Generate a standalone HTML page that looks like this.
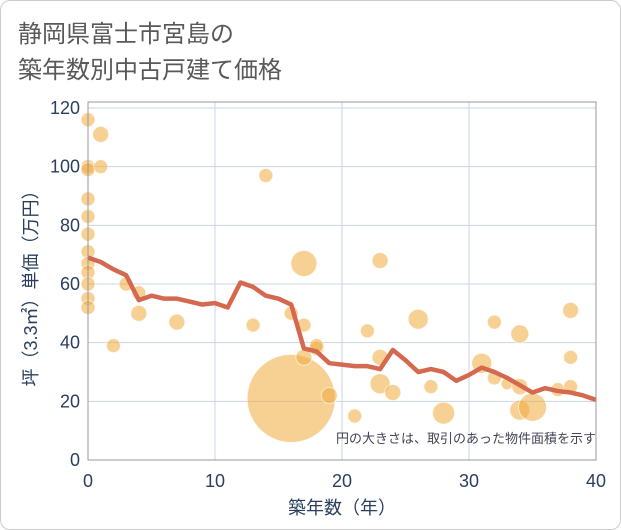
<!DOCTYPE html>
<html><head><meta charset="utf-8"><style>
body{margin:0;background:#fff;}
#card{position:absolute;left:0;top:0;width:619px;height:528px;border:1px solid #ccc;border-radius:10px;background:#fff;}
.t{font-family:"Liberation Sans","Noto Sans CJK JP",sans-serif;}
</style></head><body>
<div id="card"></div>
<svg width="621" height="530" style="position:absolute;left:0;top:0" class="t" id="svg">
<text x="18" y="42" font-size="24" fill="#595959">静岡県富士市宮島の</text>
<text x="18" y="78" font-size="24" fill="#595959">築年数別中古戸建て価格</text>
<g id="grid"></g><g id="bubbles"></g><g id="line"></g><g id="axes"></g>
<text x="596" y="443" font-size="13" fill="#445" text-anchor="end">円の大きさは、取引のあった物件面積を示す</text>
<text x="342" y="514" font-size="18" fill="#2a3f5f" text-anchor="middle">築年数（年）</text>
<text transform="translate(37,284) rotate(-90)" font-size="18" fill="#2a3f5f" text-anchor="middle">坪（3.3㎡）単価（万円）</text>
</svg>
<script>
const xTicks=[0,10,20,30,40];
const yTicks=[0,20,40,60,80,100,120];
const lineYears=[0,1,2,3,4,5,6,7,8,9,10,11,12,13,14,15,16,17,18,19,20,21,22,23,24,25,26,27,28,29,30,31,32,33,34,35,36,37,38,39,40];
const lineValues=[69,67.5,65,63,54.5,56,55,55,54,53,53.5,52,60.5,59,56,55,53,38,37,33,32.5,32,32,31,37.5,34,30,31,30,27,29,31.5,30,28,25.5,23,24.5,23.5,23,22,20.5];
const bubbleYears=[0,0,0,0,0,0,0,0,0,0,0,0,1,1,2,3,4,4,7,13,14,16,16,17,17,17,18,18,19,21,22,23,23,23,24,26,27,28,31,32,32,33,34,34,34,35,37,38,38,38];
const bubbleValues=[116,100,99,89,83,77,71,67,64,60,55,52,111,100,39,60,57,50,47,46,97,21,50,67,46,35,38,39,22,15,44,68,35,26,23,48,25,16,33,47,28,26,43,25,17,18,24,51,35,25];
const bubbleSizes=[7,7,7,7,7,7,7,7,7,7,7,7,8,7,7,7,7,8,8,7,7,44,7,13,7,8,7,7,8,7,7,8,8,10,8,10,7,11,10,7,7,6,9,8,10,14,7,8,7,7];
const NS="http://www.w3.org/2000/svg";
const X0=88,X1=596,Y0=460,Y1=108;
const sx=v=>X0+(X1-X0)*v/40, sy=v=>Y0-(Y0-Y1)*v/120;
function mk(tag,attrs,parent){const e=document.createElementNS(NS,tag);for(const k in attrs)e.setAttribute(k,attrs[k]);parent.appendChild(e);return e;}
const grid=document.getElementById('grid'),axes=document.getElementById('axes');
xTicks.forEach(t=>{
 const l=mk('line',{x1:sx(t),x2:sx(t),y1:Y1-6,y2:Y0,stroke:'#c8d4e3','stroke-width':1},grid);
 
 
 const tx=mk('text',{x:sx(t),y:Y0+27,'font-size':18,fill:'#2a3f5f','text-anchor':'middle'},axes);
 tx.textContent=t;
 
 
});
yTicks.forEach(t=>{
 const l=mk('line',{x1:X0,x2:X1,y1:sy(t),y2:sy(t),stroke:'#c8d4e3','stroke-width':1},grid);
 
 
 const tx=mk('text',{x:X0-8,y:sy(t)+6,'font-size':18,fill:'#2a3f5f','text-anchor':'end'},axes);
 tx.textContent=t;
 
 
});
const fr=mk('rect',{x:X0,y:Y1-6,width:X1-X0,height:Y0-Y1+6,fill:'none',stroke:'#999','stroke-width':1},axes);


const bg=document.getElementById('bubbles');
bubbleYears.forEach((yr,i)=>{
 const c=mk('circle',{cx:sx(yr),cy:sy(bubbleValues[i]),r:bubbleSizes[i],fill:'rgba(240,170,60,0.55)',stroke:'rgba(255,255,255,0.6)','stroke-width':1},bg);
 
 
});
const p=mk('polyline',{points:lineYears.map((y,i)=>sx(y)+','+sy(lineValues[i])).join(' '),fill:'none',stroke:'#d4694f','stroke-width':4.5,'stroke-linejoin':'round'},document.getElementById('line'));


</script>
</body></html>
